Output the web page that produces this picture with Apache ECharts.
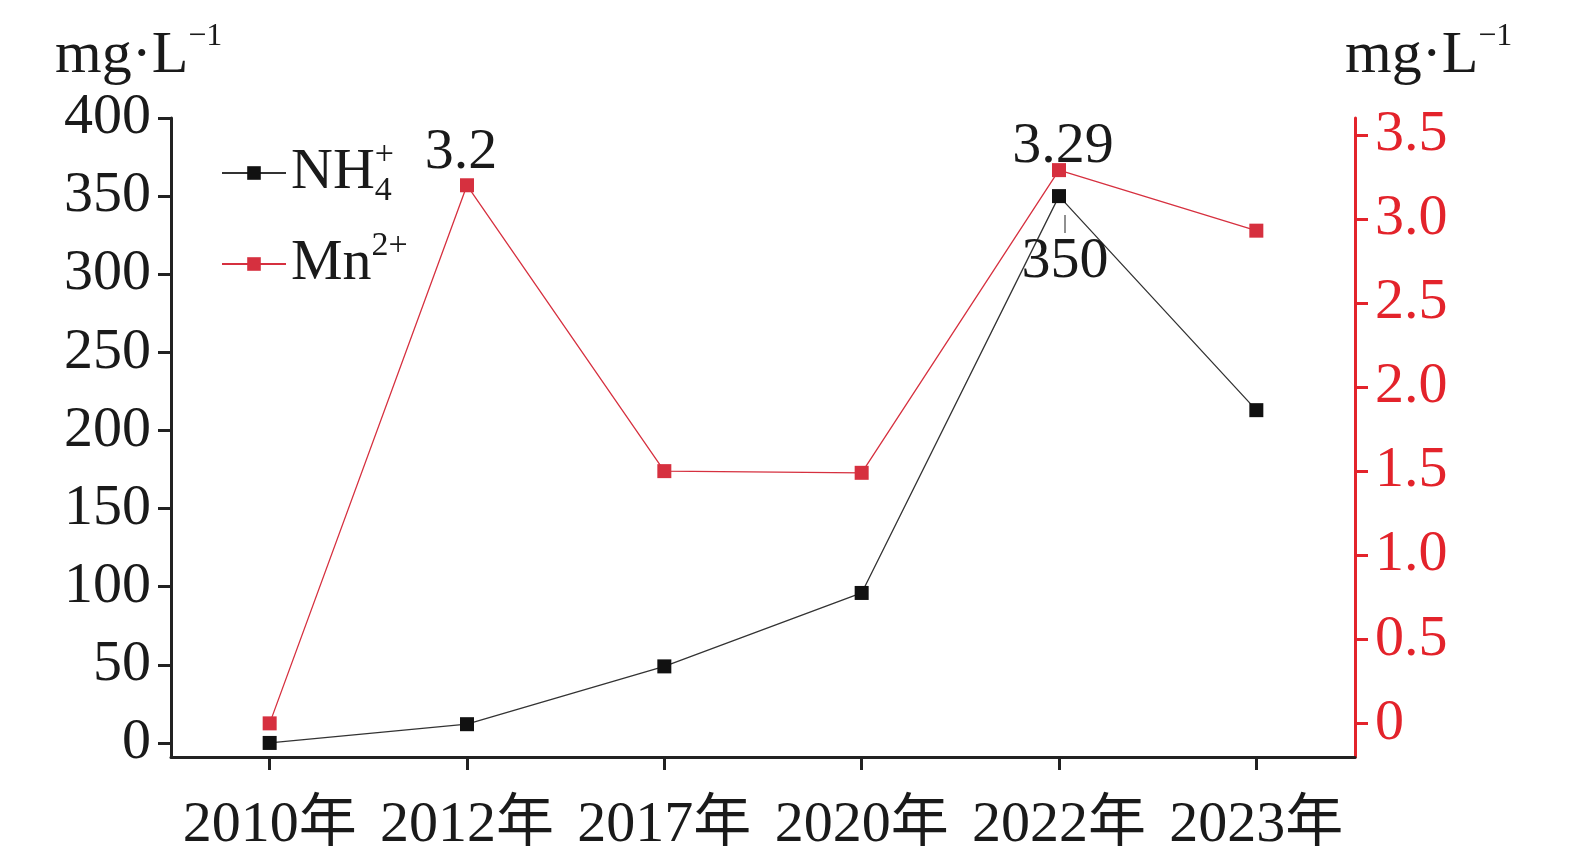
<!DOCTYPE html>
<html><head><meta charset="utf-8">
<script src="https://cdn.jsdelivr.net/npm/echarts@6/dist/echarts.min.js"></script>
<style>html,body{margin:0;padding:0;background:#fff}#c{width:1575px;height:864px}</style>
</head><body><div id="c"></div>
<script>
const categories = ['2010年','2012年','2017年','2020年','2022年','2023年'];
const nh4Values = [0, 12, 49, 96, 350, 213];
const mnValues = [0, 3.2, 1.5, 1.49, 3.29, 2.93];
const leftTicks = [0, 50, 100, 150, 200, 250, 300, 350, 400];
const rightTicks = [0, 0.5, 1.0, 1.5, 2.0, 2.5, 3.0, 3.5];
const seriesNames = ['NH4+', 'Mn2+'];
const unitText = 'mg·L';

const FONT = '"Liberation Serif","Noto Sans CJK SC",serif';
const BLACK = '#1a1a1a';
const RED_AXIS = '#e3232b';
const RED = '#d6303f';

const chart = echarts.init(document.getElementById('c'));

const nh4Data = nh4Values.map((v, i) => {
  if (i === 4) {
    return { value: v, label: { show: true, position: 'bottom', distance: 12, offset: [6, 0],
      formatter: '{bar|}\n{t|{c}}',
      rich: { bar: { width: 1, height: 18, backgroundColor: '#222', align: 'center' },
              t: { fontSize: 58, fontFamily: FONT, color: BLACK, lineHeight: 58 } } } };
  }
  return v;
});
const mnData = mnValues.map((v, i) => {
  if (i === 1) return { value: v, label: { show: true, position: 'top', distance: -4, offset: [-6, 0] } };
  if (i === 4) return { value: v, label: { show: true, position: 'top', distance: -13, offset: [4, 0] } };
  return v;
});

const labelStyle = { fontSize: 58, fontFamily: FONT, color: BLACK };
const unitRich = {
  m: { fontSize: 60, fontFamily: FONT, fill: BLACK, lineHeight: 70 },
  s: { fontSize: 32, fontFamily: FONT, fill: BLACK, lineHeight: 32, verticalAlign: 'top' }
};

chart.setOption({
  animation: false,
  backgroundColor: '#fff',
  grid: { left: 171, right: 220, top: 118, bottom: 107, containLabel: false },
  legend: {
    orient: 'vertical', left: 221, top: 138, itemGap: 21, padding: 0,
    itemWidth: 64, itemHeight: 17,
    data: seriesNames,
    formatter: function (name) {
      if (name === 'NH4+') return '{m|NH}{sub|4}{sup|+}';
      return '{m|Mn}{sup|2+}';
    },
    textStyle: {
      fontSize: 58, fontFamily: FONT, color: BLACK,
      rich: {
        m: { fontSize: 58, fontFamily: FONT, color: BLACK, lineHeight: 70 },
        sub: { fontSize: 34, fontFamily: FONT, color: BLACK, lineHeight: 26, verticalAlign: 'bottom', width: 0, align: 'left' },
        sup: { fontSize: 34, fontFamily: FONT, color: BLACK, lineHeight: 44, verticalAlign: 'top' }
      }
    }
  },
  graphic: [
    { type: 'text', left: 55, top: 21, style: { text: '{m|' + unitText + '}{s|−1}', rich: unitRich } },
    { type: 'text', left: 1345, top: 21, style: { text: '{m|' + unitText + '}{s|−1}', rich: unitRich } }
  ],
  xAxis: {
    type: 'category', data: categories, boundaryGap: true,
    axisLine: { onZero: false, lineStyle: { color: '#222', width: 3 } },
    axisTick: { show: true, alignWithLabel: true, length: 13, lineStyle: { width: 3, color: '#222' } },
    axisLabel: { margin: 40, fontSize: 58, fontFamily: FONT, color: BLACK, interval: 0 },
    splitLine: { show: false }
  },
  yAxis: [
    {
      type: 'value', min: -9, max: 400, position: 'left',
      axisLine: { show: true, onZero: false, lineStyle: { color: '#222', width: 3 } },
      axisTick: { show: true, length: 13, lineStyle: { width: 3, color: '#222' }, customValues: leftTicks },
      axisLabel: { margin: 20, fontSize: 58, fontFamily: FONT, color: BLACK, customValues: leftTicks },
      splitLine: { show: false }
    },
    {
      type: 'value', min: -0.2, max: 3.6, position: 'right',
      axisLine: { show: true, onZero: false, lineStyle: { color: RED_AXIS, width: 3 } },
      axisTick: { show: true, length: 13, lineStyle: { width: 3, color: RED_AXIS }, customValues: rightTicks },
      axisLabel: { margin: 20, fontSize: 58, fontFamily: FONT, color: RED_AXIS, customValues: rightTicks,
        formatter: v => (v === 0 ? '0' : v.toFixed(1)) },
      splitLine: { show: false }
    }
  ],
  series: [
    {
      name: 'NH4+', type: 'line', yAxisIndex: 0, data: nh4Data,
      symbol: 'rect', symbolSize: 14, showAllSymbol: true,
      itemStyle: { color: '#111' },
      lineStyle: { color: '#333', width: 1.3 },
      label: { show: false, ...labelStyle }
    },
    {
      name: 'Mn2+', type: 'line', yAxisIndex: 1, data: mnData,
      symbol: 'rect', symbolSize: 14, showAllSymbol: true,
      itemStyle: { color: RED },
      lineStyle: { color: RED, width: 1.3 },
      label: { show: false, ...labelStyle }
    }
  ]
});
</script></body></html>
